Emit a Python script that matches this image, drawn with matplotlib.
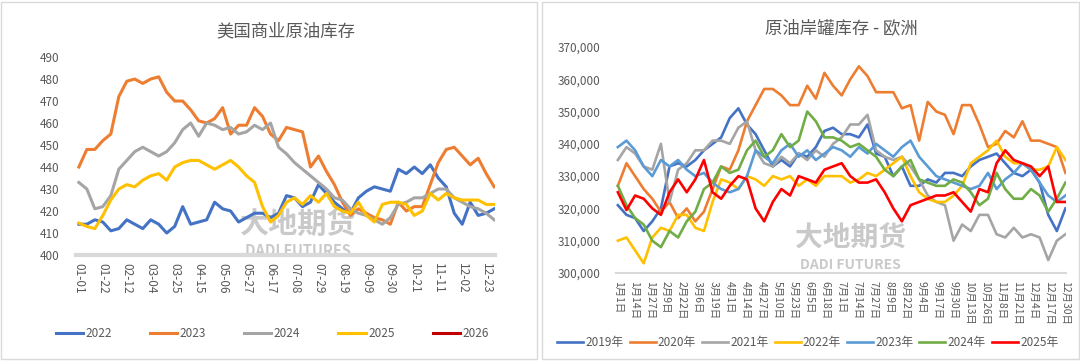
import numpy as np
import pandas as pd
import matplotlib
matplotlib.use('Agg')
import matplotlib.pyplot as plt
from matplotlib.patches import Rectangle
from matplotlib.ticker import FuncFormatter

plt.rcParams['font.family'] = ['Noto Sans CJK SC', 'DejaVu Sans']

# ---- 左图: 美国商业原油库存 (周度, 53周) ----
weeks = pd.date_range('2024-01-01', periods=53, freq='7D').strftime('%m-%d').tolist()

us_2022 = [414, 414, 416, 415, 411, 412, 416, 414, 412, 416, 414, 410, 413, 422, 414, 415,
           416, 424, 421, 420, 415, 417, 419, 419, 417, 419, 427, 426, 422, 424, 432, 428,
           424, 421, 419, 426, 429, 431, 430, 429, 439, 437, 440, 437, 441, 435, 431, 419,
           414, 424, 418, 419, 421]
us_2023 = [440, 448, 448, 452, 455, 472, 479, 480, 478, 480, 481, 474, 470, 470, 466, 461,
           460, 462, 467, 455, 459, 459, 467, 463, 455, 452, 458, 457, 456, 440, 445, 438,
           432, 424, 418, 421, 419, 417, 416, 414, 424, 420, 422, 422, 432, 442, 448, 449,
           445, 441, 444, 437, 431]
us_2024 = [433, 430, 421, 422, 427, 439, 443, 447, 449, 447, 445, 447, 451, 457, 460, 454,
           460, 459, 457, 458, 455, 456, 459, 457, 460, 449, 446, 442, 439, 436, 433, 430,
           426, 425, 421, 419, 418, 416, 414, 417, 423, 424, 426, 426, 428, 430, 430, 426,
           424, 422, 421, 419, 416]
us_2025 = [414.5, 413, 412, 418, 425, 430, 432, 431, 434, 436, 437, 434, 440, 442, 443, 443,
           441, 439, 441, 443, 440, 436, 433, 422, 415, 418, 424, 426, 423, 427, 424, 428,
           422, 420, 419, 424, 418, 415, 423, 424, 424, 423, 418, 420, 428, 425, 428, 426,
           425, 425, 425, 423, 423]
us_2026 = []

# ---- 右图: 原油岸罐库存 - 欧洲 (千桶, 按周取样) ----
eu_2019 = [321, 318, 317, 313, 316, 320, 333, 334, 333, 335, 338, 340, 342, 348, 351, 346,
           343, 338, 333, 335, 333, 337, 336, 339, 344, 345, 343, 343, 342, 346, 337, 336,
           330, 333, 327, 327, 329, 328, 331, 331, 330, 333, 335, 336, 337, 334, 331, 330,
           332, 328, 318, 313, 320]
eu_2020 = [327, 334, 330, 326, 323, 319, 322, 317, 320, 316, 319, 326, 333, 332, 338, 347,
           352, 357, 357, 355, 352, 352, 358, 354, 362, 358, 355, 360, 364, 361, 356, 356,
           356, 351, 352, 341, 353, 350, 349, 343, 352, 352, 346, 339, 340, 344, 342, 347,
           341, 341, 340, 339, 331]
eu_2021 = [335, 339, 337, 333, 332, 340, 322, 332, 334, 338, 338, 341, 341, 340, 345, 347,
           338, 334, 333, 336, 334, 337, 335, 338, 336, 340, 342, 346, 346, 349, 338, 336,
           335, 336, 333, 329, 324, 322, 321, 310, 315, 313, 318, 318, 312, 311, 314, 311,
           312, 311, 304, 310, 312]
eu_2022 = [310, 311, 307, 303, 311, 314, 313, 318, 318, 314, 313, 322, 329, 328, 326, 330,
           329, 327, 330, 329, 330, 327, 329, 327, 330, 330, 330, 328, 329, 331, 330, 332,
           334, 336, 330, 325, 323, 322, 322, 324, 327, 334, 336, 338, 341, 336, 334, 334,
           332, 332, 333, 339, 335]
eu_2023 = [339, 341, 338, 333, 330, 335, 333, 335, 332, 330, 331, 328, 326, 325, 326, 330,
           338, 336, 334, 338, 340, 336, 338, 335, 337, 339, 338, 336, 339, 337, 340, 338,
           336, 339, 341, 336, 333, 330, 329, 328, 327, 326, 327, 331, 326, 329, 331, 334,
           332, 328, 324, 322, 324]
eu_2024 = [327, 321, 317, 315, 310, 308, 313, 311, 316, 319, 326, 328, 333, 331, 332, 338,
           341, 336, 338, 343, 339, 341, 350, 347, 342, 342, 341, 339, 340, 338, 336, 332,
           330, 333, 335, 329, 328, 327, 327, 329, 328, 325, 321, 323, 331, 326, 323, 323,
           326, 324, 319, 323, 328]
eu_2025 = [325, 319.5, 324, 323, 320, 318, 325, 329, 325, 329, 335, 325, 323, 327, 330, 329,
           320, 316, 322, 326, 324, 330, 329, 328, 332, 333, 334, 330, 328, 328, 329, 325,
           320, 316, 321, 322, 323, 324, 324, 325, 322, 319, 326, 325, 334, 338, 335, 334,
           333, 330, 333, 322, 322]

eu_dates = pd.date_range('2020-01-01', periods=53, freq='7D')
eu_ticks = pd.date_range('2020-01-01', '2020-12-30', freq='13D')
eu_ticklabels = [f'{d.month}月{d.day}日' for d in eu_ticks]

grey_txt = '#595959'
wm_col = '#A6A6A6'

fig = plt.figure(figsize=(10.8, 3.61), dpi=100)

# 两个面板的边框
fig.patches.append(Rectangle((1 / 1080, 2 / 361), 536 / 1080, 357 / 361, transform=fig.transFigure,
                             fill=False, edgecolor='#D9D9D9', linewidth=1))
fig.patches.append(Rectangle((542 / 1080, 2 / 361), 537 / 1080, 357 / 361, transform=fig.transFigure,
                             fill=False, edgecolor='#D9D9D9', linewidth=1))

# ---------- 左图 ----------
ax1 = fig.add_axes([0.0708, 0.2936, 0.3875, 0.5484])
x1 = np.arange(len(weeks))
ax1.plot(x1, us_2022, color='#4472C4', lw=2.2, label='2022')
ax1.plot(x1, us_2023, color='#ED7D31', lw=2.2, label='2023')
ax1.plot(x1, us_2024, color='#A5A5A5', lw=2.2, label='2024')
ax1.plot(x1, us_2025, color='#FFC000', lw=2.2, label='2025')
ax1.plot(x1[:len(us_2026)], us_2026, color='#C00000', lw=2.2, label='2026')
ax1.set_xlim(-0.3, 52.1)
ax1.set_ylim(400, 490)
ax1.set_yticks(range(400, 491, 10))
ax1.set_xticks(x1[::3])
ax1.set_xticklabels(weeks[::3], rotation=-90)
for s in ['top', 'right', 'left']:
    ax1.spines[s].set_visible(False)
ax1.spines['bottom'].set_color('#D9D9D9')
ax1.spines['bottom'].set_linewidth(3)
ax1.tick_params(axis='both', length=0, colors=grey_txt, labelsize=8.5)
ax1.tick_params(axis='y', pad=12)
ax1.tick_params(axis='x', pad=6)
ax1.set_title('美国商业原油库存', fontsize=12.5, color=grey_txt, pad=15)
ax1.legend(loc='center', bbox_to_anchor=(0.252, 0.075), bbox_transform=fig.transFigure,
           ncol=5, frameon=False, fontsize=8.5, handlelength=2.3, handletextpad=0.2,
           columnspacing=3.25, labelcolor=grey_txt)
ax1.text(0.53, 0.155, '大地期货', transform=ax1.transAxes, fontsize=21, color=wm_col,
         alpha=0.6, ha='center', va='center', fontweight='bold', zorder=0)
ax1.text(0.53, 0.02, 'DADI FUTURES', transform=ax1.transAxes, fontsize=10.5, color=wm_col,
         alpha=0.6, ha='center', va='center', fontweight='bold', zorder=0)

# ---------- 右图 ----------
ax2 = fig.add_axes([0.5704, 0.2438, 0.4167, 0.626])
eu_series = [('2019年', eu_2019, '#4472C4'), ('2020年', eu_2020, '#ED7D31'),
             ('2021年', eu_2021, '#A5A5A5'), ('2022年', eu_2022, '#FFC000'),
             ('2023年', eu_2023, '#5B9BD5'), ('2024年', eu_2024, '#70AD47'),
             ('2025年', eu_2025, '#FF0000')]
for name, vals, col in eu_series:
    ax2.plot(eu_dates, np.array(vals) * 1000, color=col, lw=1.9, label=name)
ax2.set_xlim(eu_dates[0] - pd.Timedelta(days=1.5), eu_dates[-1] + pd.Timedelta(days=0.5))
ax2.set_ylim(300000, 370000)
ax2.set_yticks(range(300000, 370001, 10000))
ax2.yaxis.set_major_formatter(FuncFormatter(lambda v, p: f'{v:,.0f}'))
ax2.set_xticks(eu_ticks)
ax2.set_xticklabels(eu_ticklabels, rotation=-90)
for s in ['top', 'right', 'left']:
    ax2.spines[s].set_visible(False)
ax2.spines['bottom'].set_color('#D9D9D9')
ax2.spines['bottom'].set_linewidth(1.5)
ax2.tick_params(axis='both', length=0, colors=grey_txt)
ax2.tick_params(axis='y', labelsize=8.5, pad=11)
ax2.tick_params(axis='x', labelsize=7.5, pad=6)
ax2.set_title('原油岸罐库存 - 欧洲', fontsize=12.5, color=grey_txt, pad=10)
ax2.legend(loc='center', bbox_to_anchor=(0.748, 0.05), bbox_transform=fig.transFigure,
           ncol=7, frameon=False, fontsize=8.5, handlelength=2.2, handletextpad=0.2,
           columnspacing=0.5, labelcolor=grey_txt)
ax2.text(0.52, 0.15, '大地期货', transform=ax2.transAxes, fontsize=20, color=wm_col,
         alpha=0.6, ha='center', va='center', fontweight='bold', zorder=0)
ax2.text(0.52, 0.035, 'DADI FUTURES', transform=ax2.transAxes, fontsize=10, color=wm_col,
         alpha=0.6, ha='center', va='center', fontweight='bold', zorder=0)

fig.savefig('out.png', dpi=100)
